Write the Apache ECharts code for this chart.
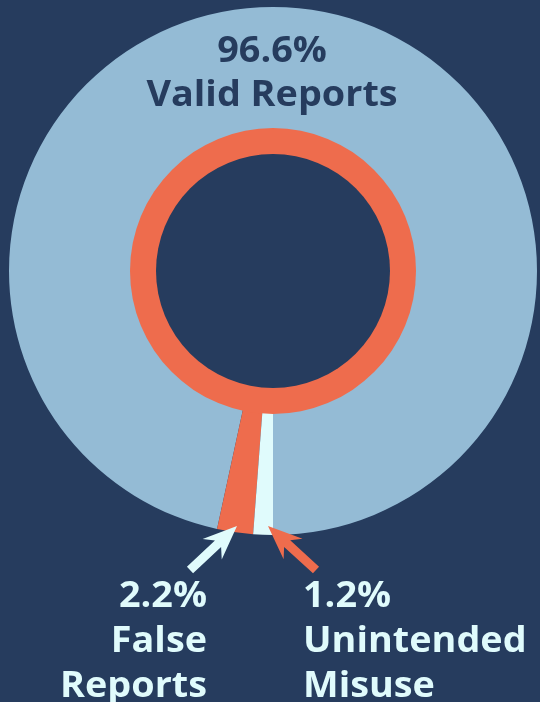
<!DOCTYPE html>
<html>
<head>
<meta charset="utf-8">
<script src="https://cdn.jsdelivr.net/npm/echarts@6/dist/echarts.min.js"></script>
<style>
html,body{margin:0;padding:0;background:#263c5e;}
#chart{width:540px;height:702px;}
</style>
</head>
<body>
<div id="chart"></div>
<script>
const categories = ['Valid Reports', 'False Reports', 'Unintended Misuse'];
const values = [96.6, 2.2, 1.2];
const labelLines = [['96.6%', 'Valid Reports'], ['2.2%', 'False', 'Reports'], ['1.2%', 'Unintended', 'Misuse']];

const NAVY = '#263c5e';
const BLUE = '#94bbd5';
const ORANGE = '#ee6c4d';
const CYAN = '#e0fbfc';
const sliceColors = [BLUE, ORANGE, CYAN];

const FONT = '"Open Sans", "Noto Sans", sans-serif';

function arrow(tail, tip, color) {
  const dx = tip[0] - tail[0], dy = tip[1] - tail[1];
  const len = Math.sqrt(dx * dx + dy * dy);
  const ux = dx / len, uy = dy / len;
  const nx = -uy, ny = ux;
  const w = 4.5, h = 34, hw = 14, notch = 8;
  const p = (base, a, b) => [base[0] + ux * a + nx * b, base[1] + uy * a + ny * b];
  const pts = [
    tip,
    p(tip, -h, hw),
    p(tip, -(h - notch), w),
    p(tail, 0, w),
    p(tail, 0, -w),
    p(tip, -(h - notch), -w),
    p(tip, -h, -hw)
  ];
  return { type: 'polygon', shape: { points: pts }, style: { fill: color }, silent: true, z: 10 };
}

function textLines(lines, x, y0, step, align, color) {
  return lines.map((t, i) => ({
    type: 'text', x: x, y: y0 + i * step, scaleX: 1.05, silent: true, z: 10,
    style: { text: t, fill: color, font: '700 36px ' + FONT, textAlign: align, textVerticalAlign: 'middle' }
  }));
}

const chart = echarts.init(document.getElementById('chart'), null, { renderer: 'canvas' });
const center = [273, 271];
chart.setOption({
  backgroundColor: NAVY,
  animation: false,
  series: [
    {
      type: 'pie', silent: true, center: center, radius: [0, 264],
      startAngle: 270, clockwise: false, avoidLabelOverlap: false,
      label: { show: false }, labelLine: { show: false },
      itemStyle: { borderWidth: 0 },
      data: categories.map((c, i) => ({ name: c, value: values[i], itemStyle: { color: sliceColors[i] } })),
      z: 1
    },
    {
      type: 'pie', silent: true, center: center, radius: [0, 143],
      label: { show: false }, labelLine: { show: false },
      itemStyle: { color: ORANGE, borderWidth: 0 },
      data: [{ value: 1 }], z: 2
    },
    {
      type: 'pie', silent: true, center: center, radius: [0, 117],
      label: { show: false }, labelLine: { show: false },
      itemStyle: { color: NAVY, borderWidth: 0 },
      data: [{ value: 1 }], z: 3
    }
  ],
  graphic: [
    ...textLines(labelLines[0], 272, 52, 44, 'center', NAVY),
    ...textLines(labelLines[1], 207, 597, 45, 'right', CYAN),
    ...textLines(labelLines[2], 303, 597, 45, 'left', CYAN),
    arrow([190, 570], [237, 526], CYAN),
    arrow([316, 570], [268, 526], ORANGE)
  ]
});
</script>
</body>
</html>
